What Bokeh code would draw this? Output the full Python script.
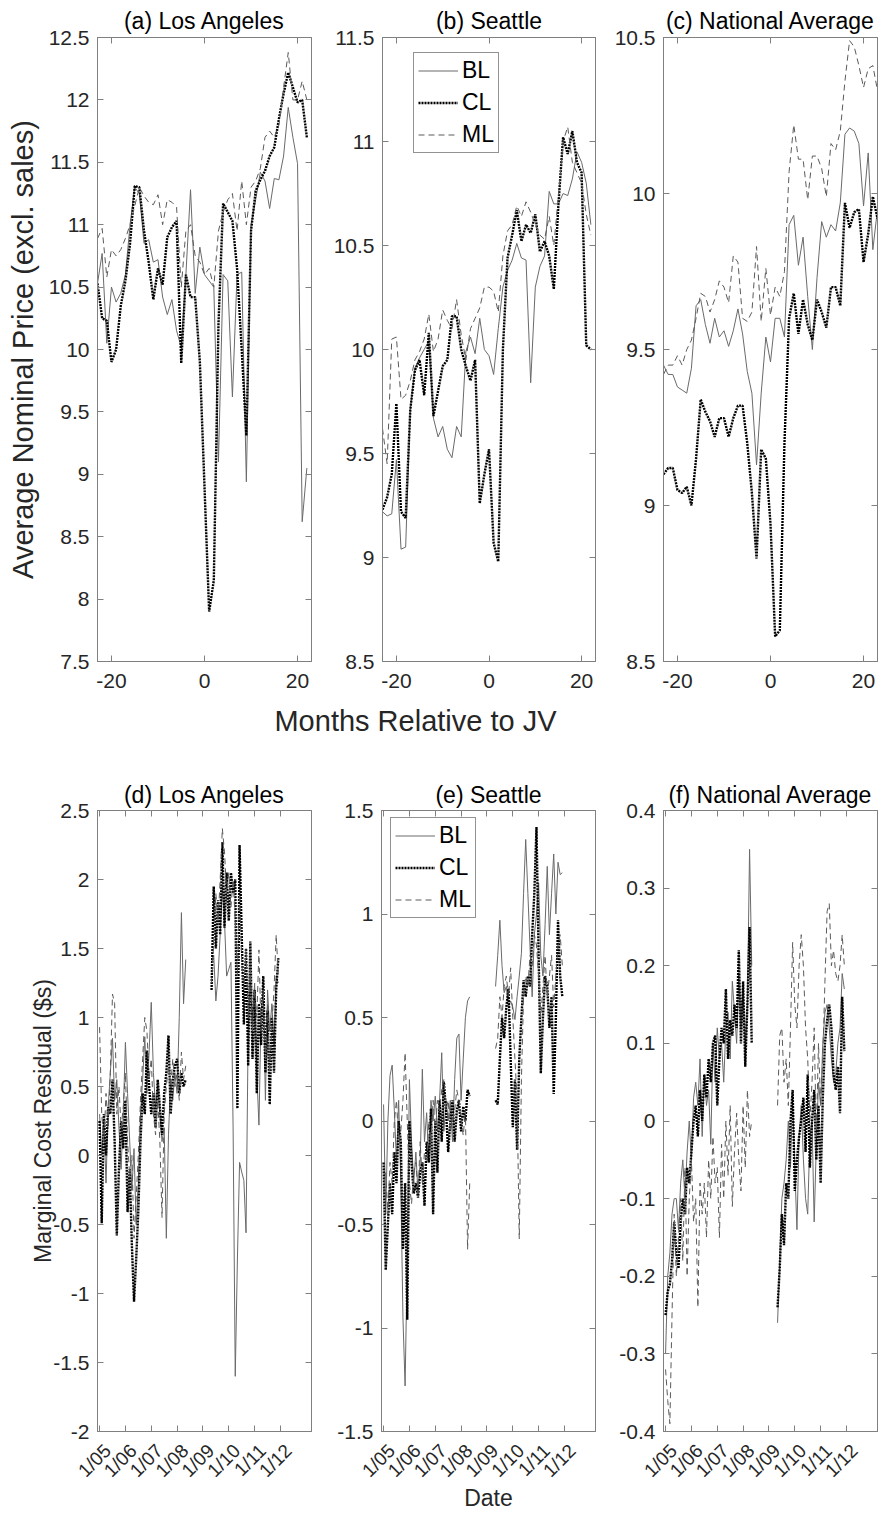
import math
import numpy as np
from bokeh.plotting import figure
from bokeh.layouts import column, row
from bokeh.models import (Range1d, LinearAxis, FixedTicker, Legend, LegendItem, Label,
                          PrintfTickFormatter, CustomJSTickFormatter)
from bokeh.embed import file_html
from bokeh.resources import INLINE

# ---------------- Top row: average nominal price, months relative to JV ----------------
la_bl = [10.53, 10.77, 10.05, 10.50, 10.38, 10.45, 10.60, 11.00, 11.30, 11.25, 10.85, 10.88,
         10.70, 10.72, 10.42, 10.28, 10.40, 10.15, 10.02, 10.60, 11.28, 10.45, 10.82, 10.60,
         10.55, 10.50, 9.10, 10.60, 10.55, 9.62, 10.60, 10.62, 8.94, 11.00, 11.20, 11.42,
         11.35, 11.13, 11.37, 11.36, 11.55, 11.94, 11.70, 11.49, 8.62, 9.05]
la_cl = [10.53, 10.25, 10.23, 9.90, 10.00, 10.35, 10.55, 10.85, 11.31, 11.30, 10.95, 10.70,
         10.40, 10.65, 10.52, 10.90, 10.98, 11.03, 9.89, 10.60, 10.42, 10.42, 9.90, 8.90,
         7.90, 8.15, 10.20, 11.17, 11.10, 11.03, 10.65, 10.00, 9.31, 10.95, 11.27, 11.36,
         11.43, 11.55, 11.62, 11.85, 12.05, 12.22, 12.10, 11.98, 12.00, 11.70]
la_ml = [10.89, 10.97, 10.58, 10.80, 10.75, 10.80, 10.89, 11.00, 11.15, 11.30, 11.23, 11.18,
         11.16, 11.24, 11.00, 11.20, 11.18, 11.14, 10.50, 10.95, 11.00, 10.75, 10.70, 10.60,
         10.65, 10.50, 10.95, 11.10, 11.20, 11.25, 10.95, 11.35, 11.00, 11.30, 11.35, 11.45,
         11.70, 11.75, 11.70, 11.80, 12.10, 12.38, 12.00, 12.00, 12.15, 12.00]

se_bl = [9.22, 9.20, 9.21, 9.47, 9.04, 9.05, 9.71, 9.91, 9.96, 10.00, 10.04, 9.67,
         9.58, 9.63, 9.52, 9.48, 9.63, 9.58, 9.99, 10.06, 9.98, 10.15, 10.00, 9.97,
         9.88, 10.10, 10.30, 10.38, 10.43, 10.51, 10.44, 10.43, 9.84, 10.30, 10.40, 10.45,
         10.76, 10.70, 10.70, 10.75, 10.74, 10.82, 10.95, 10.90, 10.80, 10.60]
se_cl = [9.23, 9.29, 9.40, 9.74, 9.22, 9.19, 9.71, 9.90, 9.95, 9.78, 10.08, 9.68,
         9.80, 9.92, 9.95, 10.16, 10.16, 10.00, 9.92, 9.85, 9.95, 9.26, 9.40, 9.52,
         9.07, 8.98, 10.00, 10.44, 10.55, 10.67, 10.52, 10.60, 10.56, 10.65, 10.47, 10.52,
         10.45, 10.29, 10.70, 11.02, 10.94, 11.05, 10.90, 10.85, 10.02, 10.00]
se_ml = [9.62, 9.45, 10.05, 10.06, 9.76, 9.78, 9.85, 9.95, 9.99, 10.05, 10.17, 9.99,
         10.05, 10.19, 10.14, 10.10, 10.24, 10.07, 9.95, 10.10, 10.15, 10.20, 10.30, 10.30,
         10.28, 10.18, 10.45, 10.57, 10.60, 10.69, 10.64, 10.71, 10.66, 10.60, 10.55, 10.53,
         10.64, 10.50, 10.74, 11.00, 11.07, 10.90, 10.85, 10.80, 10.65, 10.55]

na_bl = [9.45, 9.42, 9.42, 9.38, 9.37, 9.36, 9.44, 9.64, 9.66, 9.58, 9.52, 9.60,
         9.54, 9.56, 9.51, 9.56, 9.63, 9.55, 9.43, 9.36, 9.13, 9.36, 9.54, 9.46,
         9.60, 9.60, 9.54, 9.90, 9.93, 9.77, 9.86, 9.67, 9.50, 9.73, 9.91, 9.86,
         9.90, 9.88, 9.97, 10.19, 10.21, 10.20, 10.16, 9.96, 10.13, 9.82, 9.95]
na_cl = [9.10, 9.12, 9.12, 9.05, 9.04, 9.06, 9.00, 9.15, 9.34, 9.30, 9.27, 9.22,
         9.28, 9.28, 9.22, 9.28, 9.32, 9.32, 9.20, 9.04, 8.83, 9.18, 9.15, 8.94,
         8.58, 8.60, 9.20, 9.60, 9.68, 9.55, 9.66, 9.58, 9.53, 9.66, 9.62, 9.57,
         9.70, 9.70, 9.64, 9.97, 9.89, 9.94, 9.95, 9.78, 9.87, 9.99, 9.92]
na_ml = [9.42, 9.45, 9.45, 9.48, 9.45, 9.50, 9.53, 9.60, 9.68, 9.67, 9.62, 9.66,
         9.72, 9.70, 9.65, 9.80, 9.78, 9.60, 9.59, 9.62, 9.83, 9.59, 9.76, 9.61,
         9.70, 9.67, 9.75, 10.07, 10.22, 10.11, 10.11, 9.98, 10.12, 10.12, 10.08, 9.99,
         10.16, 10.14, 10.20, 10.36, 10.49, 10.47, 10.41, 10.34, 10.40, 10.41, 10.33]

month_ticks = [-20, 0, 20]

# ---------------- Bottom row: marginal cost residual by date ----------------
# segment 1: Jan 2005 .. May 2008 (monthly); segment 2: May 2009 .. Dec 2011
la_bl_1 = [0.3, 0.0, 0.25, -0.2, 0.35, 0.6, 0.85, 0.4, 0.55, 0.2, -0.1, 0.3, 0.82, 0.45, 0.1,
           -0.25, 0.05, -0.5, -0.2, 0.3, 0.55, 0.86, 0.45, 0.75, 1.11, 0.6, 0.35, 0.5, 0.3,
           0.1, 0.2, -0.6, 0.15, 0.55, 0.4, 0.6, 0.45, 1.0, 1.76, 1.1, 1.42]
la_cl_1 = [0.25, -0.49, 0.3, 0.0, 0.35, 0.3, 0.55, 0.1, -0.58, -0.1, 0.25, 0.05, 0.4, -0.41,
           -0.1, -0.65, -1.06, -0.75, -0.4, 0.1, 0.45, 0.3, 0.76, 0.5, 0.3, 0.45, 0.2, 0.55,
           0.35, 0.15, 0.45, 0.6, 0.87, 0.3, 0.55, 0.65, 0.7, 0.45, 0.6, 0.5, 0.55]
la_ml_1 = [0.93, 0.3, 0.1, 0.45, 0.2, 0.6, 1.17, 1.1, 0.3, 0.5, 0.2, 0.35, 0.6, 0.1, -0.15,
           0.0, -0.6, -0.3, 0.0, 0.4, 0.7, 1.0, 0.9, 0.55, 0.7, 0.3, 0.15, 0.4, 0.1, -0.45,
           0.3, 0.5, 0.65, 0.5, 0.7, 0.5, 0.6, 0.4, 0.75, 0.55, 0.65]
la_bl_2 = [1.4, 1.45, 1.12, 1.3, 1.6, 1.95, 1.7, 1.3, 1.35, 1.4, 0.2, -1.6, -0.75, -0.05,
           -0.12, -0.18, -0.56, 0.9, 1.3, 0.95, 1.25, 0.6, 0.22, 1.05, 1.2, 0.4, 1.2, 0.9,
           1.1, 0.8, 1.3, 1.25]
la_cl_2 = [1.2, 1.95, 1.5, 1.85, 1.6, 2.27, 1.65, 2.05, 1.7, 2.05, 1.9, 2.0, 0.34, 2.25, 1.6,
           0.95, 1.5, 0.65, 1.55, 0.7, 1.2, 0.45, 1.1, 0.8, 1.3, 0.6, 1.05, 0.37, 1.0, 0.6,
           1.2, 1.43]
la_ml_2 = [1.25, 1.55, 1.9, 1.7, 2.0, 2.37, 2.2, 1.9, 2.05, 1.8, 2.0, 1.7, 1.3, 1.9, 1.4,
           1.2, 1.5, 1.0, 1.35, 0.9, 1.2, 1.0, 1.49, 0.9, 1.2, 0.7, 1.1, 0.6, 0.95, 1.2, 1.6,
           1.3]

se_bl_1 = [0.08, -0.45, 0.0, 0.22, 0.27, 0.05, -0.2, 0.1, -0.3, -0.95, -1.28, -0.66, 0.2,
           -0.1, -0.3, -0.15, -0.35, -0.2, 0.25, -0.1, 0.04, -0.2, 0.1, 0.0, 0.12, -0.05,
           0.1, 0.33, -0.05, 0.1, 0.0, 0.1, -0.1, 0.2, 0.4, 0.42, 0.1, 0.3, 0.5, 0.58, 0.6]
se_cl_1 = [-0.2, -0.72, -0.5, -0.3, -0.45, -0.15, -0.3, 0.0, -0.1, -0.62, -0.3, -0.96, 0.0,
           -0.2, -0.35, -0.3, -0.37, -0.25, -0.2, -0.41, -0.1, -0.2, 0.06, -0.45, 0.0,
           -0.25, 0.1, -0.1, 0.19, 0.05, -0.15, 0.0, 0.1, -0.1, 0.05, 0.1, -0.05, 0.07, 0.0,
           0.15, 0.12]
se_ml_1 = [-0.35, -0.25, -0.45, -0.2, -0.3, 0.0, 0.1, -0.1, -0.05, 0.1, 0.33, 0.0, -0.3,
           -0.4, -0.25, -0.2, -0.35, -0.1, -0.3, -0.15, -0.2, 0.0, -0.1, 0.1, -0.05, 0.1,
           0.05, 0.15, 0.2, 0.05, 0.1, -0.05, 0.0, 0.05, 0.15, 0.1, 0.0, -0.07, 0.05, -0.62,
           -0.3]
se_bl_2 = [0.65, 0.8, 0.97, 0.75, 0.62, 0.65, 0.55, 0.58, 0.55, 0.49, 0.6, 0.7, 0.81, 1.1,
           1.36, 1.1, 0.84, 0.6, 0.9, 1.0, 1.15, 0.8, 0.7, 0.95, 1.23, 0.9, 1.1, 1.29, 1.0,
           1.25, 1.19, 1.2]
se_cl_2 = [0.1, 0.08, 0.3, 0.5, 0.4, 0.55, 0.64, 0.3, -0.03, 0.2, -0.14, 0.3, 0.5, 0.68,
           0.6, 0.7, 0.65, 0.9, 1.1, 1.42, 0.8, 0.23, 0.5, 0.7, 0.65, 0.45, 0.6, 0.13, 0.5,
           0.97, 0.7, 0.6]
se_ml_2 = [0.35, 0.4, 0.6, 0.5, 0.65, 0.7, 0.6, 0.74, 0.5, 0.3, 0.1, -0.57, 0.2, 0.6, 0.7,
           0.65, 0.8, 0.75, 0.9, 0.85, 0.7, 0.5, 0.65, 0.8, 0.6, 0.7, 0.8, 0.55, 0.7, 0.85,
           0.9, 0.75]

na_bl_1 = [-0.3, -0.2, -0.17, -0.12, -0.1, -0.1, -0.14, -0.08, -0.05, -0.1, -0.04, 0.0,
           -0.05, 0.03, 0.05, 0.02, 0.08, -0.02, 0.06, 0.02, 0.04, -0.03, 0.1, 0.05, 0.12,
           0.08, 0.1, 0.05, 0.12, 0.14, 0.08, 0.18, 0.14, 0.1, 0.19, 0.12, 0.17, 0.08, 0.15,
           0.35, 0.2]
na_cl_1 = [-0.25, -0.22, -0.21, -0.18, -0.13, -0.17, -0.19, -0.13, -0.1, -0.12, -0.06, -0.08,
           -0.04, 0.0, 0.02, -0.02, 0.04, 0.0, 0.06, 0.03, 0.08, 0.05, 0.1, 0.11, 0.02, 0.08,
           0.12, 0.1, 0.17, 0.08, 0.13, 0.11, 0.15, 0.12, 0.22, 0.1, 0.18, 0.07, 0.15, 0.25,
           0.1]
na_ml_1 = [-0.32, -0.36, -0.39, -0.25, -0.12, -0.2, -0.15, -0.1, -0.18, -0.06, -0.2, -0.1,
           -0.05, -0.13, -0.1, -0.24, -0.08, -0.12, -0.08, -0.15, -0.05, -0.1, -0.02, -0.08,
           -0.06, -0.15, -0.03, -0.1, 0.0, -0.07, 0.02, -0.11, -0.04, 0.01, -0.05, -0.09,
           0.02, -0.06, 0.04, -0.02, 0.0]
na_bl_2 = [-0.26, -0.18, -0.1, -0.08, -0.05, 0.0, -0.06, 0.03, -0.06, -0.14, -0.02, 0.02,
           -0.05, -0.1, -0.12, -0.02, 0.0, -0.13, -0.03, 0.05, 0.02, 0.1, 0.14, 0.15, 0.12,
           0.08, 0.05, 0.06, 0.1, 0.12, 0.19, 0.17]
na_cl_2 = [-0.24, -0.19, -0.12, -0.16, -0.08, -0.1, 0.0, 0.04, -0.09, -0.05, -0.02, 0.0,
           0.03, -0.04, 0.06, -0.06, 0.0, 0.04, -0.05, 0.02, -0.08, 0.03, 0.1, 0.13, 0.15,
           0.12, 0.06, 0.04, 0.07, 0.01, 0.16, 0.09]
na_ml_2 = [0.02, 0.11, 0.12, 0.05, 0.08, 0.02, 0.12, 0.23, 0.15, 0.12, 0.2, 0.24, 0.2, 0.12,
           0.08, 0.0, 0.05, 0.12, -0.02, 0.1, 0.02, 0.08, 0.18, 0.27, 0.28, 0.2, 0.22, 0.19,
           0.18, 0.2, 0.24, 0.2]

year_ticks = [2005, 2006, 2007, 2008, 2009, 2010, 2011, 2012]
seg1_start_month = 0     # months after Jan 2005
seg2_start_month = 52

# ---------------- styling ----------------
FONT = "Liberation Sans"
GRAY = "#808080"
TEXT = "#262626"
BL_COLOR = "#6a6a6a"
ML_COLOR = "#5a5a5a"
LABEL_SHIFT = 0.31   # years: rotated date labels sit a little right of their tick


def style_axis(ax, ticks, fmt, show_labels, font_size="21px", standoff=8, orient=None):
    ax.ticker = FixedTicker(ticks=ticks)
    ax.formatter = fmt
    ax.axis_line_color = GRAY
    ax.major_tick_line_color = GRAY
    ax.major_tick_in = 6
    ax.major_tick_out = 0
    ax.minor_tick_line_color = None
    ax.minor_tick_in = 0
    ax.minor_tick_out = 0
    ax.major_label_text_font = FONT
    if show_labels:
        ax.major_label_text_color = TEXT
        ax.major_label_text_font_size = font_size
        ax.major_label_standoff = standoff
    else:
        ax.major_label_text_color = None
        ax.major_label_text_font_size = "1px"
        ax.major_label_standoff = 0
    if orient is not None:
        ax.major_label_orientation = orient


def make_panel(title, xr, yr, xticks, yticks, xfmt, width, bl, br, height, bt, bb,
               title_standoff, xstand, rotated=False):
    p = figure(width=width, height=height, x_range=Range1d(*xr), y_range=Range1d(*yr),
               output_backend="svg", toolbar_location=None, title=title,
               min_border_left=bl, min_border_right=br, min_border_top=bt,
               min_border_bottom=bb)
    p.title.align = "center"
    p.title.text_font = FONT
    p.title.text_font_size = "23px"
    p.title.text_font_style = "normal"
    p.title.text_color = "#000000"
    p.title.standoff = title_standoff
    p.grid.visible = False
    p.outline_line_color = GRAY
    p.background_fill_color = "white"
    p.border_fill_color = "white"
    right_ax = LinearAxis()
    top_ax = LinearAxis()
    p.add_layout(right_ax, "right")
    p.add_layout(top_ax, "above")
    style_axis(p.left[0], yticks, PrintfTickFormatter(format="%g"), True, standoff=8)
    style_axis(right_ax, yticks, PrintfTickFormatter(format="%g"), False)
    style_axis(top_ax, xticks, xfmt, False)
    lab_ax = None
    if rotated:
        # tick marks on the frame; labels from a second, line-less axis just beneath
        style_axis(p.below[0], xticks, xfmt, False)
        lab_ax = LinearAxis()
        p.add_layout(lab_ax, "below")
        style_axis(lab_ax, [t + LABEL_SHIFT for t in xticks],
                   CustomJSTickFormatter(code="return '1/' + String(Math.round(tick - %f)).slice(2);" % LABEL_SHIFT),
                   True, font_size="19px", standoff=xstand, orient=math.pi / 4)
        lab_ax.axis_line_color = None
        lab_ax.major_tick_line_color = None
        lab_ax.major_tick_in = 0
    else:
        style_axis(p.below[0], xticks, xfmt, True, standoff=xstand)
    return p, lab_ax


def draw_series(p, x, bl, cl, ml):
    rb = p.line(x, bl, line_color=BL_COLOR, line_width=1)
    rc = p.line(x, cl, line_color="black", line_width=2.4, line_dash="2 1")
    rm = p.line(x, ml, line_color=ML_COLOR, line_width=1, line_dash="6 4")
    return rb, rc, rm


def add_legend(p, renderers, loc):
    items = [LegendItem(label=name, renderers=[r]) for name, r in zip(["BL", "CL", "ML"], renderers)]
    lg = Legend(items=items, location=loc, label_text_font=FONT, label_text_font_size="23px",
                label_text_color="#000000", border_line_color="#262626", border_line_width=1,
                background_fill_color="white", background_fill_alpha=1.0, glyph_width=40,
                glyph_height=25, label_height=25, label_standoff=4, padding=4, spacing=5,
                margin=0)
    p.add_layout(lg)


def join_segments(a, b):
    xa = [2005 + (seg1_start_month + i) / 12 for i in range(len(a))]
    xb = [2005 + (seg2_start_month + i) / 12 for i in range(len(b))]
    return xa + [np.nan] + xb, list(a) + [np.nan] + list(b)


def yt(lo, hi, step):
    n = int(round((hi - lo) / step))
    return [round(lo + i * step, 2) for i in range(n + 1)]


def style_axis_label(ax, text, size, standoff):
    ax.axis_label = text
    ax.axis_label_text_font = FONT
    ax.axis_label_text_font_size = size
    ax.axis_label_text_font_style = "normal"
    ax.axis_label_text_color = TEXT
    ax.axis_label_standoff = standoff


# columns: (figure width, left border, right border); every frame is 214 px wide
COLS = [(330, 97, 19), (280, 51, 15), (277, 53, 10)]
TOP_H, TOP_BT, TOP_BB = 698, 37, 37
BOT_H, BOT_BT, BOT_BB = 765, 60, 84

MONTH_RANGE = (-23, 23)
DATE_RANGE = (2004.92, 2013.2)
month_fmt = PrintfTickFormatter(format="%g")
date_fmt = CustomJSTickFormatter(code="return '1/' + String(Math.round(tick)).slice(2);")

top_specs = [
    ("(a) Los Angeles", (7.5, 12.5), yt(7.5, 12.5, 0.5), la_bl, la_cl, la_ml),
    ("(b) Seattle", (8.5, 11.5), yt(8.5, 11.5, 0.5), se_bl, se_cl, se_ml),
    ("(c) National Average", (8.5, 10.5), yt(8.5, 10.5, 0.5), na_bl, na_cl, na_ml),
]
top_figs = []
for i, (title, yr, yticks, bl, cl, ml) in enumerate(top_specs):
    w, blb, brb = COLS[i]
    p, _ = make_panel(title, MONTH_RANGE, yr, month_ticks, yticks, month_fmt, w, blb, brb,
                      TOP_H, TOP_BT, TOP_BB, title_standoff=8, xstand=12)
    x = list(range(-23, -23 + len(bl)))
    rs = draw_series(p, x, bl, cl, ml)
    if i == 1:
        add_legend(p, rs, (31, 508))
    top_figs.append(p)

style_axis_label(top_figs[0].left[0], "Average Nominal Price (excl. sales)", "29px", 7)

bot_specs = [
    ("(d) Los Angeles", (-2, 2.5), yt(-2, 2.5, 0.5), (la_bl_1, la_bl_2), (la_cl_1, la_cl_2), (la_ml_1, la_ml_2)),
    ("(e) Seattle", (-1.5, 1.5), yt(-1.5, 1.5, 0.5), (se_bl_1, se_bl_2), (se_cl_1, se_cl_2), (se_ml_1, se_ml_2)),
    ("(f) National Average", (-0.4, 0.4), yt(-0.4, 0.4, 0.1), (na_bl_1, na_bl_2), (na_cl_1, na_cl_2), (na_ml_1, na_ml_2)),
]
bot_figs = []
for i, (title, yr, yticks, bl, cl, ml) in enumerate(bot_specs):
    w, blb, brb = COLS[i]
    p, lab_ax = make_panel(title, DATE_RANGE, yr, year_ticks, yticks, date_fmt, w, blb, brb,
                           BOT_H, BOT_BT, BOT_BB, title_standoff=5, xstand=16, rotated=True)
    x, ybl = join_segments(*bl)
    _, ycl = join_segments(*cl)
    _, yml = join_segments(*ml)
    rs = draw_series(p, x, ybl, ycl, yml)
    if i == 1:
        add_legend(p, rs, (9, 513))
        style_axis_label(lab_ax, "Date", "23px", -6)
    bot_figs.append(p)

style_axis_label(bot_figs[0].left[0], "Marginal Cost Residual ($s)", "23px", -6)


def text_strip(width, height, text, cx, cy, fs):
    s = figure(width=width, height=height, x_range=Range1d(0, width), y_range=Range1d(0, height),
               output_backend="svg", toolbar_location=None, x_axis_location=None,
               y_axis_location=None, min_border=0)
    s.grid.visible = False
    s.outline_line_color = None
    s.background_fill_color = "white"
    s.border_fill_color = "white"
    s.add_layout(Label(x=cx, y=cy, text=text, text_font=FONT, text_font_size=fs,
                       text_color=TEXT, text_align="center", text_baseline="middle"))
    return s


mid_strip = text_strip(887, 750 - TOP_H, "Months Relative to JV", 415, 30, "29px")

layout = column(row(*top_figs), mid_strip, row(*bot_figs))

with open("out.html", "w") as f:
    f.write(file_html(layout, INLINE))
